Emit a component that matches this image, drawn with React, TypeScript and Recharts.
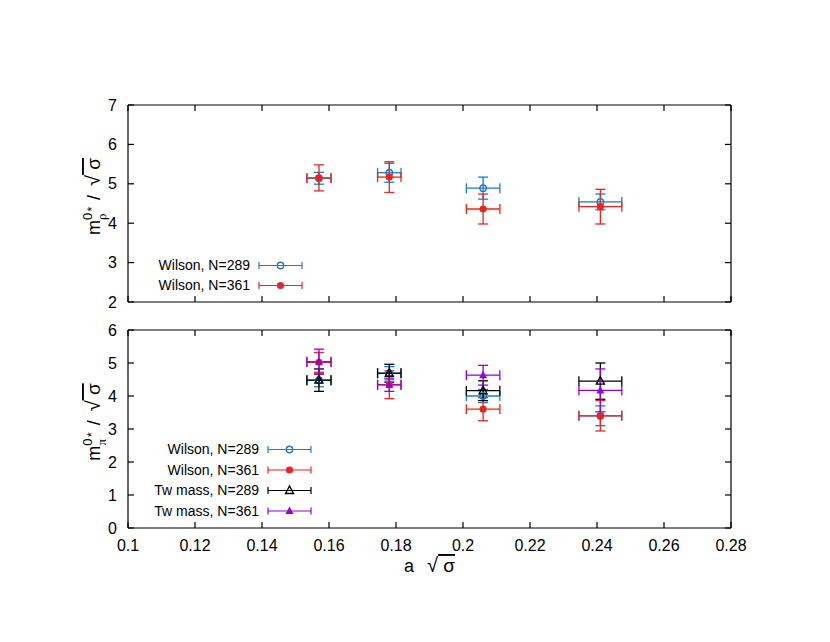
import React from 'react'
import { ScatterChart, Scatter, XAxis, YAxis, ErrorBar, Legend } from 'recharts'

// a*sqrt(sigma) for the four lattice spacings
const aSqrtSigma = [0.157, 0.178, 0.206, 0.241]
const aSqrtSigmaErr = [0.0036, 0.0035, 0.005, 0.0064]
const xTicks = [0.1, 0.12, 0.14, 0.16, 0.18, 0.2, 0.22, 0.24, 0.26, 0.28]
const rhoTicks = [2, 3, 4, 5, 6, 7]
const piTicks = [0, 1, 2, 3, 4, 5, 6]

// rho panel
const rhoWilson289 = [5.14, 5.28, 4.89, 4.54]
const rhoWilson289Err = [0.15, 0.24, 0.28, 0.2]
const rhoWilson361 = [5.15, 5.17, 4.36, 4.42]
const rhoWilson361Err = [0.33, 0.39, 0.38, 0.44]

// pi panel
const piWilson289 = [4.48, 4.69, 4.0, 3.4]
const piWilson289Err = [0.2, 0.2, 0.2, 0.3]
const piWilson361 = [5.02, 4.34, 3.6, 3.4]
const piWilson361Err = [0.3, 0.42, 0.35, 0.46]
const piTw289 = [4.48, 4.69, 4.16, 4.45]
const piTw289Err = [0.34, 0.27, 0.3, 0.55]
const piTw361 = [5.04, 4.34, 4.63, 4.17]
const piTw361Err = [0.38, 0.2, 0.3, 0.65]

const BLUE = '#1f7bc4'
const RED = '#e8261d'
const BLACK = '#000000'
const PURPLE = '#9400d3'
const SYMBOL_FONT = '"Liberation Serif", "DejaVu Serif", serif'

type Shape = 'openCircle' | 'dot' | 'openTriangle' | 'triangle'

interface Series {
  name: string
  color: string
  shape: Shape
  data: { x: number; y: number; ex: number; ey: number }[]
}

const rows = (y: number[], err: number[]) =>
  aSqrtSigma.map((x, i) => ({ x, y: y[i], ex: aSqrtSigmaErr[i], ey: err[i] }))

const rhoSeries: Series[] = [
  { name: 'Wilson, N=289', color: BLUE, shape: 'openCircle', data: rows(rhoWilson289, rhoWilson289Err) },
  { name: 'Wilson, N=361', color: RED, shape: 'dot', data: rows(rhoWilson361, rhoWilson361Err) },
]

const piSeries: Series[] = [
  { name: 'Wilson, N=289', color: BLUE, shape: 'openCircle', data: rows(piWilson289, piWilson289Err) },
  { name: 'Wilson, N=361', color: RED, shape: 'dot', data: rows(piWilson361, piWilson361Err) },
  { name: 'Tw mass, N=289', color: BLACK, shape: 'openTriangle', data: rows(piTw289, piTw289Err) },
  { name: 'Tw mass, N=361', color: PURPLE, shape: 'triangle', data: rows(piTw361, piTw361Err) },
]

function Marker({ shape, color, cx, cy }: { shape: Shape; color: string; cx: number; cy: number }) {
  if (shape === 'openCircle')
    return <circle cx={cx} cy={cy} r={3.2} fill="none" stroke={color} strokeWidth={1.4} />
  if (shape === 'dot') return <circle cx={cx} cy={cy} r={3.6} fill={color} />
  const pts = `${cx},${cy - 4.5} ${cx - 4},${cy + 3} ${cx + 4},${cy + 3}`
  if (shape === 'openTriangle')
    return <polygon points={pts} fill="none" stroke={color} strokeWidth={1.4} />
  return <polygon points={pts} fill={color} />
}

function LegendBox({ items, textRight, rowGap }: { items: Series[]; textRight: number; rowGap: number }) {
  return (
    <svg width={200} height={items.length * rowGap + 10} style={{ overflow: 'visible' }}>
      {items.map((s, i) => {
        const y = 10.5 + i * rowGap
        const x1 = textRight + 9
        const x2 = textRight + 52
        return (
          <g key={s.name}>
            <text x={textRight} y={y} dy="0.35em" textAnchor="end" fontSize={14} fill="#000">
              {s.name}
            </text>
            <line x1={x1} x2={x2} y1={y} y2={y} stroke={s.color} strokeWidth={1.2} />
            <line x1={x1} x2={x1} y1={y - 3.5} y2={y + 3.5} stroke={s.color} strokeWidth={1.2} />
            <line x1={x2} x2={x2} y1={y - 3.5} y2={y + 3.5} stroke={s.color} strokeWidth={1.2} />
            <Marker shape={s.shape} color={s.color} cx={textRight + 30.5} cy={y} />
          </g>
        )
      })}
    </svg>
  )
}

function YLab({ viewBox, sub }: any) {
  const vb = viewBox ?? {}
  const cy = (vb.y ?? 0) + (vb.height ?? 0) / 2 - 7
  return (
    <text transform={`translate(100,${cy}) rotate(-90)`} textAnchor="middle" fontSize={18} fill="#000">
      <tspan>m</tspan>
      <tspan fontSize={13} dy={-8}>0</tspan>
      <tspan fontSize={13} fontFamily={SYMBOL_FONT} dx={-7.2} dy={14}>{sub}</tspan>
      <tspan fontSize={12} dx={2} dy={-10}>*</tspan>
      <tspan dx={7} dy={4}>/</tspan>
      <tspan fontSize={20} dx={9}>√</tspan>
      <tspan fontSize={19} textDecoration="overline">{'\u00a0σ'}</tspan>
    </text>
  )
}

function XLab({ viewBox }: any) {
  const vb = viewBox ?? {}
  const cx = (vb.x ?? 0) + (vb.width ?? 0) / 2
  const y = (vb.y ?? 0) + 44
  return (
    <text x={cx} y={y} textAnchor="middle" fontSize={18} fill="#000">
      <tspan>a</tspan>
      <tspan fontSize={20} dx={13}>√</tspan>
      <tspan fontSize={19} textDecoration="overline">{'\u00a0σ'}</tspan>
    </text>
  )
}

const blank = () => <g />
const tickStyle = { fontSize: 16, fill: '#000' }
const frame = { stroke: '#000', strokeWidth: 1.2 }

interface PanelProps {
  height: number
  top: number
  bottom: number
  yDomain: [number, number]
  yTicks: number[]
  series: Series[]
  sub: string
  xLabels: boolean
  legendTop: number
  legendTextRight: number
  legendGap: number
}

// plot area: x from 128 to 731; axes are 1px thick so the margins are one less
function Panel(p: PanelProps) {
  return (
    <ScatterChart width={830} height={p.height} margin={{ top: p.top - 1, right: 98, bottom: p.bottom - 1, left: 127 }}>
      <XAxis
        xAxisId="b"
        type="number"
        dataKey="x"
        domain={[0.1, 0.28]}
        ticks={xTicks}
        allowDataOverflow
        height={1}
        tickSize={-6}
        tickMargin={18}
        tick={p.xLabels ? tickStyle : blank}
        axisLine={frame}
        tickLine={frame}
        label={p.xLabels ? <XLab /> : undefined}
      />
      <XAxis
        xAxisId="t"
        orientation="top"
        type="number"
        dataKey="x"
        domain={[0.1, 0.28]}
        ticks={xTicks}
        allowDataOverflow
        height={1}
        tickSize={-6}
        tick={blank}
        axisLine={frame}
        tickLine={frame}
      />
      <YAxis
        yAxisId="l"
        type="number"
        dataKey="y"
        domain={p.yDomain}
        ticks={p.yTicks}
        allowDataOverflow
        width={1}
        tickSize={-6}
        tickMargin={17}
        tick={tickStyle}
        axisLine={frame}
        tickLine={frame}
        label={<YLab sub={p.sub} />}
      />
      <YAxis
        yAxisId="r"
        orientation="right"
        type="number"
        dataKey="y"
        domain={p.yDomain}
        ticks={p.yTicks}
        allowDataOverflow
        width={1}
        tickSize={-6}
        tick={blank}
        axisLine={frame}
        tickLine={frame}
      />
      {p.series.map((s) => (
        <Scatter
          key={s.name}
          name={s.name}
          data={s.data}
          xAxisId="b"
          yAxisId="l"
          fill={s.color}
          isAnimationActive={false}
          shape={(props: any) => <Marker shape={s.shape} color={s.color} cx={props.cx} cy={props.cy} />}
        >
          <ErrorBar dataKey="ex" direction="x" width={5} stroke={s.color} strokeWidth={1.3} isAnimationActive={false} />
          <ErrorBar dataKey="ey" direction="y" width={5} stroke={s.color} strokeWidth={1.3} isAnimationActive={false} />
        </Scatter>
      ))}
      <Legend
        layout="vertical"
        align="center"
        verticalAlign="middle"
        wrapperStyle={{ left: 140, top: p.legendTop, width: 200, height: p.series.length * p.legendGap + 10 }}
        content={() => <LegendBox items={p.series} textRight={p.legendTextRight} rowGap={p.legendGap} />}
      />
    </ScatterChart>
  )
}

export default function App() {
  return (
    <div
      style={{
        position: 'absolute',
        left: 0,
        top: 0,
        width: 830,
        height: 642,
        background: '#fff',
        fontFamily: '"Liberation Sans", Arial, Helvetica, sans-serif',
      }}
    >
      <div style={{ position: 'absolute', left: 0, top: 0 }}>
        <Panel
          height={315}
          top={105}
          bottom={13}
          yDomain={[2, 7]}
          yTicks={rhoTicks}
          series={rhoSeries}
          sub="ρ"
          xLabels={false}
          legendTop={255}
          legendTextRight={110}
          legendGap={20}
        />
      </div>
      <div style={{ position: 'absolute', left: 0, top: 315 }}>
        <Panel
          height={327}
          top={15}
          bottom={114}
          yDomain={[0, 6]}
          yTicks={piTicks}
          series={piSeries}
          sub="π"
          xLabels
          legendTop={124}
          legendTextRight={119}
          legendGap={20.5}
        />
      </div>
    </div>
  )
}
